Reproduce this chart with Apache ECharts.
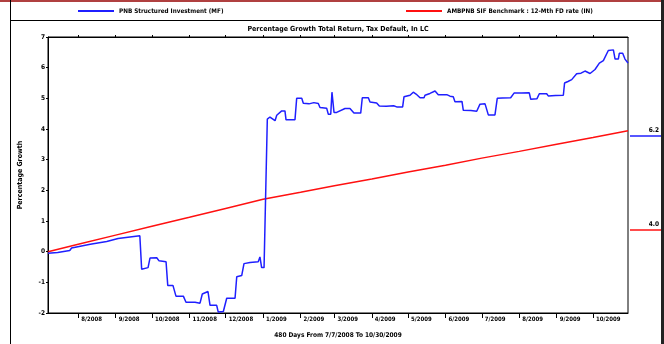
<!DOCTYPE html>
<html><head><meta charset="utf-8">
<script src="https://cdn.jsdelivr.net/npm/echarts@6/dist/echarts.min.js"></script>
<style>html,body{margin:0;padding:0;background:#fff}#c{width:664px;height:344px}</style>
</head><body><div id="c"></div>
<script>
// ---- data ----
const startUTC = Date.UTC(2008, 6, 7);      // 7/7/2008, day 0
const totalDays = 480;                       // to 10/30/2009
const monthTickDates = ['2008-08-01','2008-09-01','2008-10-01','2008-11-01','2008-12-01',
  '2009-01-01','2009-02-01','2009-03-01','2009-04-01','2009-05-01','2009-06-01',
  '2009-07-01','2009-08-01','2009-09-01','2009-10-01'];
const blueName = 'PNB Structured Investment (MF)';
const redName = 'AMBPNB SIF Benchmark : 12-Mth FD rate (IN)';
const titleText = 'Percentage Growth Total Return, Tax Default, In LC';
const xTitle = '480 Days From 7/7/2008 To 10/30/2009';
const yTitle = 'Percentage Growth';
const blueDays = [0,8,18,19.5,21,35,48.6,58,76,77.5,82.8,84.4,90,91.9,97.7,99.1,103.4,105.9,112,114.2,
  121.7,125.8,127.7,132.4,134.1,139.6,140.9,145.1,147.9,154.8,156.2,160.3,162.2,167.2,174,175.4,176.8,178.8,
  181.5,183.7,187.9,189.3,193.4,196.1,197,204.4,205.8,210,211.3,216,220,223.7,225.1,230.6,232,234,235,236.7,
  238.9,245.8,249.9,253.2,258.8,260.1,265.1,266.5,272,274.2,280,286,288.6,293.5,294.6,299.6,302.3,304.6,
  306.2,307.9,311.2,312,316.1,320.3,323,330,332.7,335.4,336.8,342.6,343.7,350,354.8,357.5,361.7,363.1,
  364.4,369.9,371.8,376,382.9,385.7,392,398.3,399.5,404.7,406.6,412.7,414,420,426.5,427.5,430.3,433.4,
  437.5,441.1,444.4,448.6,452.7,456.3,459.6,463.7,467.9,469.3,472,472.8,475.6,477.5,480];
const blueValues = [-0.05,-0.03,0.04,0.12,0.18,0.24,0.33,0.43,0.52,-0.57,-0.52,-0.21,-0.2,-0.3,-0.33,-1.1,-1.1,-1.45,-1.45,-1.65,
  -1.65,-1.68,-1.38,-1.3,-1.75,-1.75,-1.97,-1.95,-1.52,-1.52,-0.82,-0.78,-0.39,-0.35,-0.33,-0.17,-0.52,-0.52,
  4.32,4.39,4.27,4.45,4.59,4.59,4.3,4.3,5.0,5.0,4.84,4.82,4.86,4.83,4.7,4.68,4.48,4.48,5.2,4.54,
  4.54,4.67,4.67,4.52,4.52,5.02,5.02,4.88,4.85,4.75,4.74,4.76,4.72,4.72,5.05,5.1,5.2,5.14,
  5.14,5.02,5.02,5.1,5.16,5.24,5.12,5.12,5.07,5.05,4.89,4.9,4.61,4.6,4.58,4.81,4.82,4.78,
  4.46,4.46,5.0,5.01,5.02,5.17,5.17,5.18,4.97,4.99,5.15,5.15,5.08,5.09,5.1,5.5,5.55,5.61,
  5.8,5.82,5.89,5.81,5.94,6.15,6.23,6.56,6.58,6.28,6.28,6.47,6.47,6.28,6.15];
const redDays = [0,25,56,86,117,147,178,209,237,268,298,329,359,390,421,451,480];
const redValues = [0,0.24,0.54,0.83,1.12,1.41,1.71,1.94,2.15,2.37,2.60,2.82,3.05,3.27,3.50,3.72,3.94];
const lastLabels = ['6.2', '4.0'];

// ---- build ----
const FONT = '"Liberation Sans Narrow","DejaVu Sans Condensed","Liberation Sans",Arial,sans-serif';
const DAY = 86400000;
const monthTickDays = monthTickDates.map(s => {
  const p = s.split('-').map(Number);
  return Math.round((Date.UTC(p[0], p[1]-1, p[2]) - startUTC) / DAY);
});
function dayLabel(d) {
  const dt = new Date(startUTC + d * DAY);
  return (dt.getUTCMonth()+1) + '/' + dt.getUTCFullYear();
}
const zip = (xs, ys) => xs.map((x, i) => [x, ys[i]]);
const BLUE = '#1f1fff', RED = '#ff1010';
const lg = {fontFamily: FONT, fontSize: 6.3, fontWeight: 'bold', color: '#000', lineHeight: 10};

const chart = echarts.init(document.getElementById('c'), null, {renderer: 'canvas'});
chart.setOption({
  animation: false,
  backgroundColor: '#fff',
  textStyle: {fontFamily: FONT},
  grid: {left: 48, top: 37, right: 36, bottom: 28, show: true, borderColor: '#000', borderWidth: 1},
  legend: [
    {data: [blueName], left: 78, top: 6, padding: 0, itemWidth: 36, itemHeight: 2, icon: 'rect', textStyle: lg},
    {data: [redName], left: 406, top: 6, padding: 0, itemWidth: 36, itemHeight: 2, icon: 'rect', textStyle: lg}
  ],
  xAxis: [{
    type: 'value', min: 0, max: totalDays,
    name: xTitle, nameLocation: 'middle', nameGap: 19,
    nameTextStyle: {fontFamily: FONT, fontSize: 6.5, fontWeight: 'bold', color: '#000'},
    axisLine: {show: true, onZero: false, lineStyle: {color: '#000', width: 1}},
    axisTick: {show: true, length: 5, lineStyle: {color: '#000'}, customValues: monthTickDays},
    axisLabel: {customValues: monthTickDays, formatter: v => dayLabel(v), align: 'left',
      padding: [0, 0, 0, 3], margin: 3, fontFamily: FONT, fontSize: 6, fontWeight: 'bold', color: '#000'},
    splitLine: {show: false}
  }, {
    type: 'value', min: 0, max: totalDays, position: 'top',
    axisLine: {show: true, onZero: false, lineStyle: {color: '#000'}},
    axisTick: {show: true, length: 2, lineStyle: {color: '#000'}, customValues: monthTickDays},
    axisLabel: {show: false}, splitLine: {show: false}
  }],
  yAxis: {
    type: 'value', min: -2, max: 7, interval: 1,
    name: yTitle, nameLocation: 'middle', nameGap: 24, nameRotate: 90,
    nameTextStyle: {fontFamily: FONT, fontSize: 7, fontWeight: 'bold', color: '#000'},
    axisLine: {show: true, onZero: false, lineStyle: {color: '#000'}},
    axisTick: {show: true, length: 2, lineStyle: {color: '#000'}},
    axisLabel: {margin: 3, fontFamily: FONT, fontSize: 6.5, fontWeight: 'bold', color: '#000'},
    splitLine: {show: false}
  },
  series: [
    {name: blueName, type: 'line', data: zip(blueDays, blueValues), showSymbol: false, symbol: 'none',
     lineStyle: {color: BLUE, width: 1.5}, itemStyle: {color: BLUE}, z: 3},
    {name: redName, type: 'line', data: zip(redDays, redValues), showSymbol: false, symbol: 'none',
     lineStyle: {color: RED, width: 1.5}, itemStyle: {color: RED}, z: 2}
  ],
  graphic: [
    {type: 'rect', shape: {x: 0, y: 0, width: 664, height: 2}, style: {fill: '#b04040'}, silent: true},
    {type: 'line', shape: {x1: 10.5, y1: 0, x2: 10.5, y2: 344}, style: {stroke: '#000', lineWidth: 1}, silent: true},
    {type: 'line', shape: {x1: 10, y1: 20.5, x2: 662, y2: 20.5}, style: {stroke: '#000', lineWidth: 1}, silent: true},
    {type: 'rect', shape: {x: 661, y: 0, width: 3, height: 344}, style: {fill: '#222'}, silent: true},
    {type: 'text', x: 338, y: 29, style: {text: titleText, font: 'bold 7px ' + FONT, fill: '#000',
      textAlign: 'center', textVerticalAlign: 'middle'}, silent: true},
    {type: 'line', shape: {x1: 630, y1: 136, x2: 661, y2: 136}, style: {stroke: BLUE, lineWidth: 1.5}, silent: true},
    {type: 'text', x: 659, y: 134, style: {text: lastLabels[0], font: 'bold 6.5px ' + FONT, fill: '#000',
      textAlign: 'right', textVerticalAlign: 'bottom'}, silent: true},
    {type: 'line', shape: {x1: 630, y1: 230, x2: 661, y2: 230}, style: {stroke: RED, lineWidth: 1.5}, silent: true},
    {type: 'text', x: 659, y: 228, style: {text: lastLabels[1], font: 'bold 6.5px ' + FONT, fill: '#000',
      textAlign: 'right', textVerticalAlign: 'bottom'}, silent: true}
  ]
});
</script></body></html>
